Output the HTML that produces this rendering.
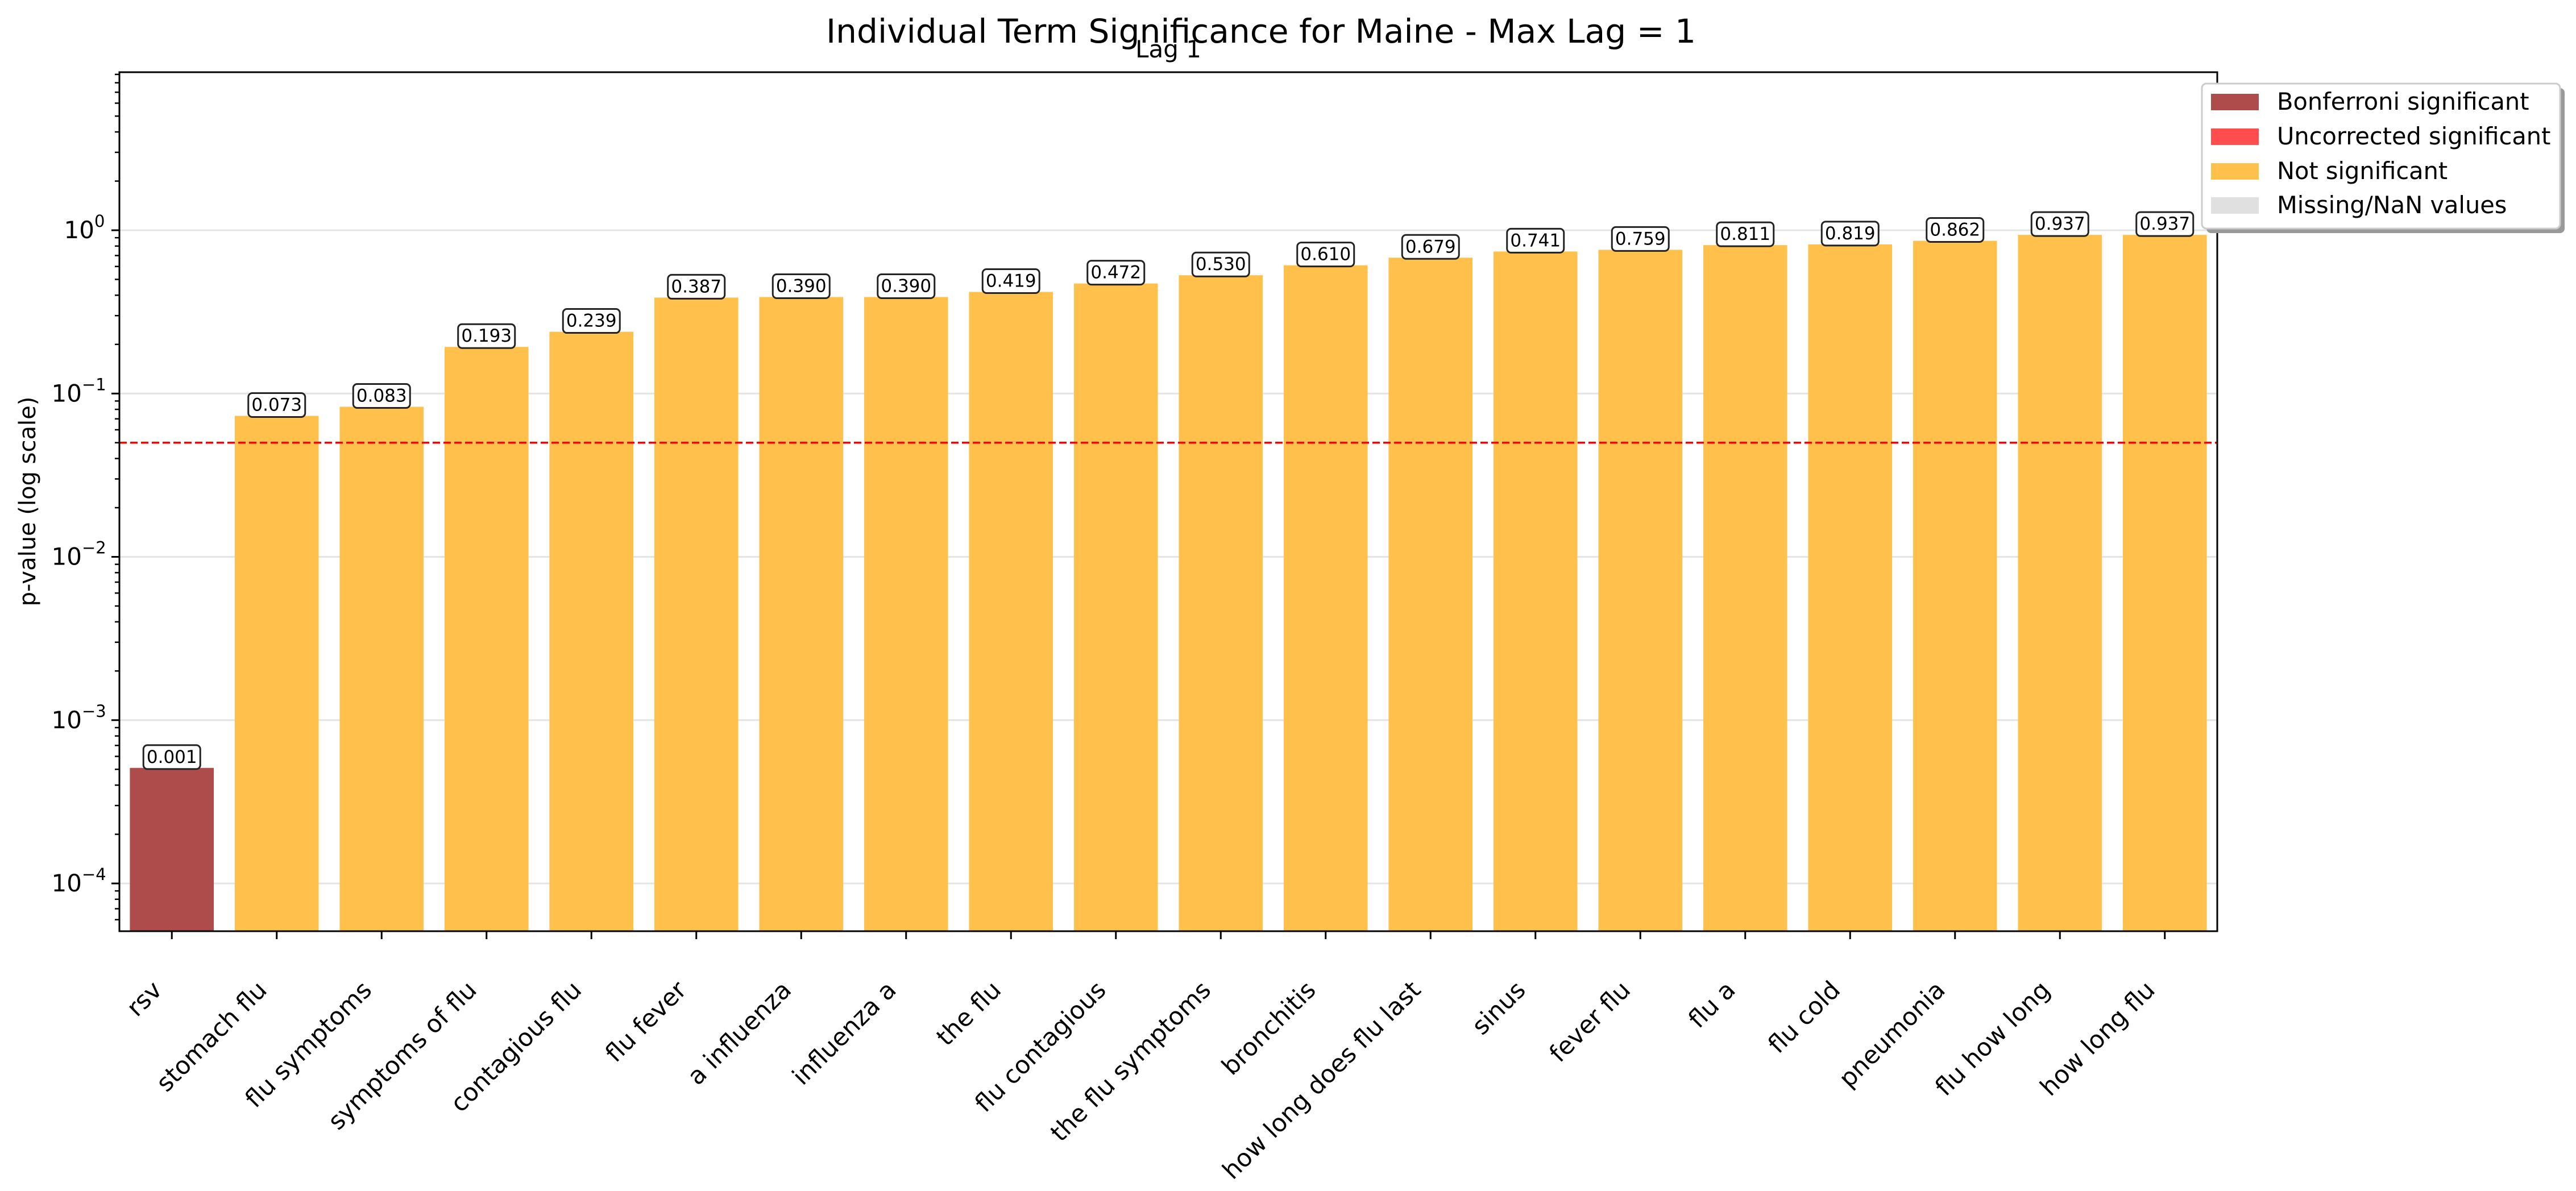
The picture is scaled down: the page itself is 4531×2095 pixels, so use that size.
<!DOCTYPE html>
<html><head><meta charset="utf-8"><style>
html,body{margin:0;padding:0;background:#fff;}
svg{display:block;font-family:"DejaVu Sans","Liberation Sans",sans-serif;}
</style></head><body>
<svg id="chart" width="4531" height="2095" viewBox="0 0 4531 2095" xmlns="http://www.w3.org/2000/svg">
<rect x="0" y="0" width="4531" height="2095" fill="#fff"/>
<text x="2218" y="75" font-size="58" text-anchor="middle" textLength="1530" lengthAdjust="spacingAndGlyphs">Individual Term Significance for Maine - Max Lag = 1</text>
<text x="2055" y="101" font-size="42" text-anchor="middle">Lag 1</text>
<text x="0" y="0" font-size="40" text-anchor="middle" transform="translate(62,882) rotate(-90)">p-value (log scale)</text>
<g id="grid"></g>
<g id="bars"></g>
<g id="thresh"></g>
<g id="labels"></g>
<g id="axes"></g>
<g id="legend">
<rect x="3881" y="155" width="630" height="255" rx="8" fill="#999"/>
<rect x="3873" y="147" width="630" height="255" rx="8" fill="#fff" stroke="#ccc" stroke-width="3"/>
<rect x="3889" y="165" width="84" height="29" fill="#ae4c4c"/>
<text x="4005" y="193" font-size="41.5">Bonferroni significant</text>
<rect x="3889" y="226" width="84" height="29" fill="#ff4c4c"/>
<text x="4005" y="254" font-size="41.5">Uncorrected significant</text>
<rect x="3889" y="287" width="84" height="29" fill="#ffc04c"/>
<text x="4005" y="315" font-size="41.5">Not significant</text>
<rect x="3889" y="347" width="84" height="29" fill="#e0e0e0"/>
<text x="4005" y="375" font-size="41.5">Missing/NaN values</text>
</g>
</svg>
<script>
const terms = ["rsv","stomach flu","flu symptoms","symptoms of flu","contagious flu","flu fever","a influenza","influenza a","the flu","flu contagious","the flu symptoms","bronchitis","how long does flu last","sinus","fever flu","flu a","flu cold","pneumonia","flu how long","how long flu"];
const pValues = [0.00051,0.073,0.083,0.193,0.239,0.387,0.390,0.390,0.419,0.472,0.530,0.610,0.679,0.741,0.759,0.811,0.819,0.862,0.937,0.937];
const categories = ["bonferroni","not","not","not","not","not","not","not","not","not","not","not","not","not","not","not","not","not","not","not"];
const yTickExps = [-4,-3,-2,-1,0];
const threshold = 0.05;

const NS="http://www.w3.org/2000/svg";
const L=210,R=3900,T=127,B=1638;
const xMin=-0.5,xMax=19.5;
const dec=287.25, y0=405;
function xs(i){return L+(i-xMin)/(xMax-xMin)*(R-L);}
function ys(v){return y0-Math.log10(v)*dec;}
const step=(R-L)/(xMax-xMin);
const colors={bonferroni:"#ae4c4c",uncorrected:"#ff4c4c",not:"#ffc04c",missing:"#e0e0e0"};
function mk(tag,attrs,parent){const e=document.createElementNS(NS,tag);for(const k in attrs)e.setAttribute(k,attrs[k]);parent.appendChild(e);return e;}

const grid=document.getElementById('grid');
yTickExps.forEach(e=>{
  const l=mk('line',{x1:L,x2:R,y1:ys(Math.pow(10,e)),y2:ys(Math.pow(10,e)),stroke:"#e4e4e4","stroke-width":3},grid);
  
  
});

const bars=document.getElementById('bars');
pValues.forEach((v,i)=>{
  const cx=xs(i),w=step*0.8;
  const top=ys(v);
  const r=mk('rect',{x:cx-w/2,y:top,width:w,height:B-top,fill:colors[categories[i]]},bars);
  
  
});

const th=document.getElementById('thresh');
const tl=mk('line',{x1:L,x2:R,y1:ys(threshold),y2:ys(threshold),stroke:"red","stroke-width":3.5,"stroke-dasharray":"13,6"},th);



const labels=document.getElementById('labels');
pValues.forEach((v,i)=>{
  const cx=xs(i),top=ys(v);
  const g=mk('g',{},labels);
  
  
  mk('rect',{x:cx-50,y:top-40,width:100,height:42,rx:7,fill:"#fff","fill-opacity":0.85,stroke:"#222","stroke-width":3},g);
  const t=mk('text',{x:cx,y:top-9,"font-size":31,"text-anchor":"middle"},g);
  t.textContent=v.toFixed(3);
});

const ax=document.getElementById('axes');
const frame=mk('rect',{x:L,y:T,width:R-L,height:B-T,fill:"none",stroke:"#000","stroke-width":3},ax);


yTickExps.forEach(e=>{
  const y=ys(Math.pow(10,e));
  mk('line',{x1:L-14,x2:L,y1:y,y2:y,stroke:"#000","stroke-width":3},ax);
  const sw=e<0?40:18;
  const t=mk('text',{x:L-26-sw,y:y+14,"font-size":42,"text-anchor":"end"},ax);
  
  
  t.textContent="10";
  const s=mk('text',{x:L-26-sw,y:y-6,"font-size":29,"text-anchor":"start"},ax);
  
  
  s.textContent=(e<0?"\u2212":"")+Math.abs(e);
});
for(let e=-5;e<=0;e++){for(let m=2;m<=9;m++){const v=m*Math.pow(10,e);const y=ys(v);if(y>T&&y<B){mk('line',{x1:L-8,x2:L,y1:y,y2:y,stroke:"#000","stroke-width":2.5},ax);}}}
terms.forEach((n,i)=>{
  const x=xs(i);
  mk('line',{x1:x,x2:x,y1:B,y2:B+14,stroke:"#000","stroke-width":3},ax);
  const px=x-15,py=1744;
  const t=mk('text',{x:px,y:py,"font-size":43,"text-anchor":"end",transform:"rotate(-45 "+px+" "+py+")"},ax);
  
  
  t.textContent=n;
});
</script>
</body></html>
